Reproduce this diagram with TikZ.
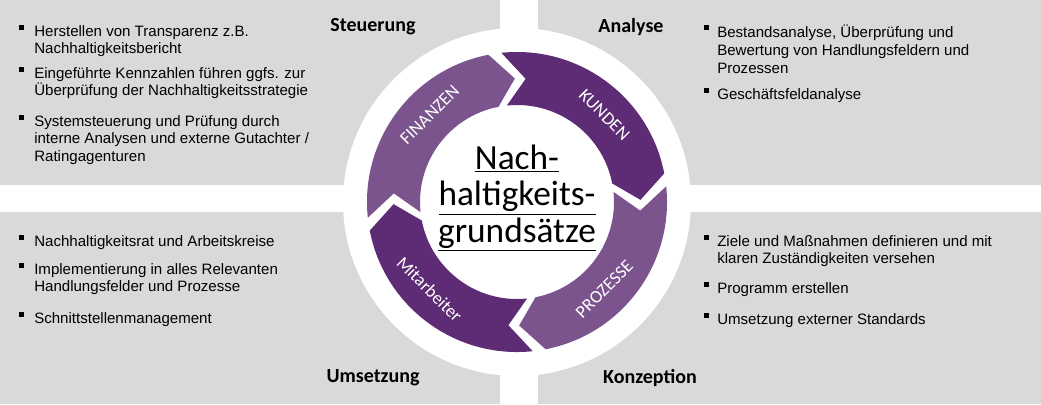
\documentclass[tikz,border=0pt]{standalone}
\usepackage{fontspec}
\setmainfont{Liberation Sans}
\newfontfamily\carfont{Carlito}
\begin{document}
\begin{tikzpicture}[x=0.75pt,y=-0.75pt,
  panel/.style={fill=panelgray,draw=none},
  head/.style={font=\carfont\bfseries\fontsize{15}{17}\selectfont,anchor=center},
  item/.style={anchor=north west,align=left,inner sep=0pt,font=\fontsize{11.3}{13.3}\selectfont},
  ringlbl/.style={text=white,font=\carfont\fontsize{13.5}{15}\selectfont}]
\definecolor{panelgray}{HTML}{D9D9D9}
\definecolor{lightp}{HTML}{7B548E}
\definecolor{darkp}{HTML}{5E2C74}
\useasboundingbox (0,0) rectangle (1041,404);
\fill[white] (0,0) rectangle (1041,404);
\fill[panel] (0,0) rectangle (500,185);
\fill[panel] (538,0) rectangle (1041,185);
\fill[panel] (0,212) rectangle (500,404);
\fill[panel] (538,212) rectangle (1041,404);
\fill[white] (517,202) circle[radius=174];
\newcommand\bl{\rule[2pt]{3.3pt}{3.3pt}}
% headings
\node[head] (hs) at (373,27) {Steuerung};
\node[head] (ha) at (631,27) {Analyse};
\node[head] (hu) at (373,378) {Umsetzung};
\node[head] (hk) at (650,378) {Konzeption};
\foreach \y/\t in {25/{Herstellen von Transparenz z.B.\\Nachhaltigkeitsbericht},
  67/{Eingeführte Kennzahlen führen ggfs. zur\\Überprüfung der Nachhaltigkeitsstrategie},
  115/{Systemsteuerung und Prüfung durch\\interne Analysen und externe Gutachter /\\Ratingagenturen}}
  {\node[item] at (19,\y) {\bl}; \node[item] at (34,\y) {\t};}
\foreach \y/\t in {25/{Bestandsanalyse, Überprüfung und\\Bewertung von Handlungsfeldern und\\Prozessen},
  88/{Geschäftsfeldanalyse}}
  {\node[item] at (704,\y) {\bl}; \node[item] at (717,\y) {\t};}
\foreach \y/\t in {235/{Nachhaltigkeitsrat und Arbeitskreise},
  263/{Implementierung in alles Relevanten\\Handlungsfelder und Prozesse},
  312/{Schnittstellenmanagement}}
  {\node[item] at (19,\y) {\bl}; \node[item] at (34,\y) {\t};}
\foreach \y/\t in {235/{Ziele und Maßnahmen definieren und mit\\klaren Zuständigkeiten versehen},
  282/{Programm erstellen},
  313/{Umsetzung externer Standards}}
  {\node[item] at (704,\y) {\bl}; \node[item] at (717,\y) {\t};}
% ring
\begin{scope}[shift={(517,202)},yscale=-1]
\def\ro{150}\def\ri{97}\def\rm{123.5}
\foreach \t/\c in {186/lightp,96/darkp,6/lightp,-84/darkp}{
  \fill[\c] (\t:\ro) arc[start angle=\t,end angle={\t-85},radius=\ro]
    -- ({\t-95}:\rm) -- ({\t-85}:\ri)
    arc[start angle={\t-85},end angle=\t,radius=\ri] -- ({\t-10}:\rm) -- cycle;}
\node[ringlbl,rotate=45] (fin) at (135:\rm) {FINANZEN};
\node[ringlbl,rotate=-45] (kun) at (45:\rm) {KUNDEN};
\node[ringlbl,rotate=45] (pro) at (-45:\rm) {PROZESSE};
\node[ringlbl,rotate=-45] (mit) at (-135:\rm) {Mitarbeiter};
\node[font=\carfont\fontsize{26.5}{27.5}\selectfont,align=center] (ctr) at (0,4)
  {\underline{Nach-}\\\underline{haltigkeits-}\\\underline{grundsätze}};
\end{scope}
\end{tikzpicture}
\end{document}
